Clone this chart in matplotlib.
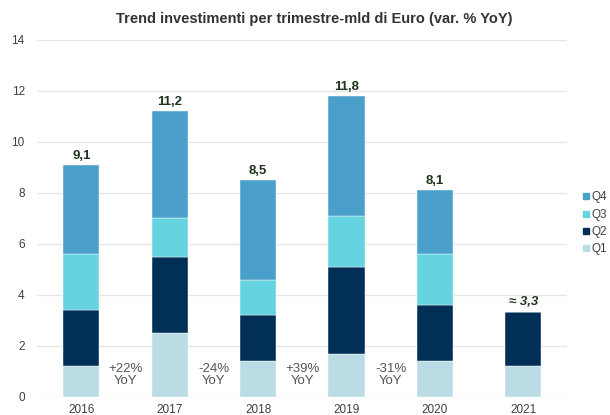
import matplotlib
matplotlib.use("Agg")
import matplotlib.pyplot as plt
import numpy as np
from matplotlib.lines import Line2D

plt.rcParams['font.family'] = ['Liberation Sans', 'DejaVu Sans']

years = ["2016", "2017", "2018", "2019", "2020", "2021"]
q1 = [1.2, 2.5, 1.4, 1.7, 1.4, 1.2]
q2 = [2.2, 3.0, 1.8, 3.4, 2.2, 2.15]
q3 = [2.2, 1.5, 1.4, 2.0, 2.0, 0.0]
q4 = [3.5, 4.2, 3.9, 4.7, 2.5, 0.0]
total_labels = ["9,1", "11,2", "8,5", "11,8", "8,1", "≈ 3,3"]
yoy_labels = ["+22%\nYoY", "-24%\nYoY", "+39%\nYoY", "-31%\nYoY"]

colors = {"Q1": "#BADDE5", "Q2": "#022F56", "Q3": "#66D3E0", "Q4": "#4AA0CB"}

fig = plt.figure(figsize=(6.1, 4.15), dpi=100)
ax = fig.add_axes([0.061, 0.0434, 0.869, 0.8606])

x = np.arange(len(years))
w = 0.41
b = np.zeros(len(years))
series = [("Q1", q1), ("Q2", q2), ("Q3", q3), ("Q4", q4)]
for name, vals in series:
    vals = np.array(vals)
    ax.bar(x, vals, w, bottom=b, color=colors[name], label=name, zorder=3,
           edgecolor="white", linewidth=0.3)
    b = b + vals

for i, (t, lab) in enumerate(zip(b, total_labels)):
    style = "italic" if i == len(years) - 1 else "normal"
    ax.text(x[i], t + 0.12, lab, ha="center", va="bottom", fontsize=9.5,
            fontweight="bold", color="#1F3320", style=style)

for i, lab in enumerate(yoy_labels):
    ax.text(x[i] + 0.5, 0.86, lab, ha="center", va="center", fontsize=9.5,
            color="#555555", linespacing=1.05)

ax.set_xlim(-0.5, 5.5)
ax.set_ylim(0, 14)
ax.set_yticks(range(0, 15, 2))
ax.set_xticks(x)
ax.set_xticklabels(years)
ax.tick_params(axis="both", length=0, labelsize=8.5, colors="#404040")
ax.tick_params(axis="y", pad=9)
ax.tick_params(axis="x", pad=5)
ax.grid(axis="y", color="#E6E6E6", linewidth=1, zorder=0)
for s in ax.spines.values():
    s.set_visible(False)

handles = [Line2D([0], [0], marker="s", linestyle="", markersize=5,
                  markerfacecolor=colors[n], markeredgecolor=colors[n], label=n)
           for n in ["Q4", "Q3", "Q2", "Q1"]]
fig.legend(handles=handles, loc="upper left", bbox_to_anchor=(0.943, 0.553),
           frameon=False, fontsize=8.5, handletextpad=0.1, labelspacing=0.45,
           borderpad=0, handlelength=0.8, labelcolor="#404040")

fig.text(0.515, 0.955, "Trend investimenti per trimestre-mld di Euro (var. % YoY)",
         ha="center", va="center", fontsize=10.5, fontweight="bold", color="#333333")

fig.savefig("out.png", dpi=100)
